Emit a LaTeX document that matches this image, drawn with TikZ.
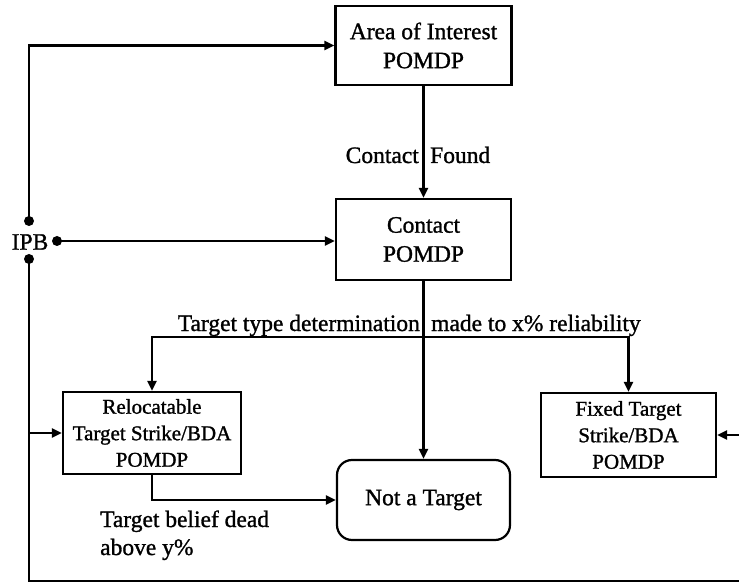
\documentclass[tikz,border=0pt]{standalone}
\usepackage{fontspec}
\setmainfont{Liberation Serif}[FakeBold=1.2]
\usetikzlibrary{arrows.meta}

\tikzset{
  wire/.style={line width=2.3pt},
  arr/.style={wire,-{Triangle[length=10pt,width=9pt]}},
  box/.style={draw,line width=2.2pt,align=center,inner sep=0pt,
    font=\fontsize{23.5}{29}\selectfont},
  smallbox/.style={box,font=\fontsize{21}{26.5}\selectfont},
  lbl/.style={inner sep=0pt,font=\fontsize{23.5}{29}\selectfont},
  dot/.style={circle,fill,inner sep=0pt,minimum size=10pt}
}

\begin{document}
\begin{tikzpicture}[x=1pt,y=-1pt]
  \useasboundingbox (0,0) rectangle (739,585);
  \clip (0,0) rectangle (739,585);

  % POMDP blocks
  \node[box,minimum width=176pt,minimum height=79pt] (aoi) at (423.5,45.5) {Area of Interest\\POMDP};
  \node[box,minimum width=175pt,minimum height=81pt] (contact) at (423.5,239.5) {Contact\\POMDP};
  \node[smallbox,minimum width=178pt,minimum height=82pt] (reloc) at (152,433) {Relocatable\\Target Strike/BDA\\POMDP};
  \node[smallbox,minimum width=175pt,minimum height=84pt] (fixed) at (628.5,435) {Fixed Target\\Strike/BDA\\POMDP};
  \node[box,rounded corners=15pt,minimum width=173pt,minimum height=80pt] (nat) at (423.5,500) {Not a Target};

  % IPB source and its taps
  \node[lbl] (ipb) at (30,242) {IPB};
  \node[dot] (d1) at (29,221) {};
  \node[dot] (d2) at (57,241) {};
  \node[dot] (d3) at (29,259) {};

  \coordinate (split) at (423.5,337);
  \coordinate (tap) at (29,433);
  \coordinate (far) at (752,581);

  % connectors
  \draw[arr] (d1.center) |- (aoi.west);
  \draw[arr] (d2.center) -- (d2.center -| contact.west);
  \draw[arr] (aoi.south) -- (contact.north);
  \draw[arr] (contact.south) -- (nat.north);
  \draw[wire] (split -| reloc.north) -- (split -| fixed.north);
  \draw[arr] (split) -| (reloc.north);
  \draw[arr] (split) -| (fixed.north);
  \draw[arr] (reloc.south) |- (nat.west);
  \draw[arr] (tap) -- (reloc.west);
  \draw[arr] (d3.center) |- (far) |- (fixed.east);

  % transition labels
  \node[lbl,anchor=base east] (cf1) at (419,163) {Contact};
  \node[lbl,anchor=base west] (cf2) at (430,163) {Found};
  \node[lbl,anchor=base east] (tt1) at (420,331) {Target type determination};
  \node[lbl,anchor=base west] (tt2) at (431,331) {made to x\% reliability};
  \node[lbl,anchor=base west] (tb1) at (100,527) {Target belief dead};
  \node[lbl,anchor=base west] (tb2) at (100,555) {above y\%};
\end{tikzpicture}
\end{document}
